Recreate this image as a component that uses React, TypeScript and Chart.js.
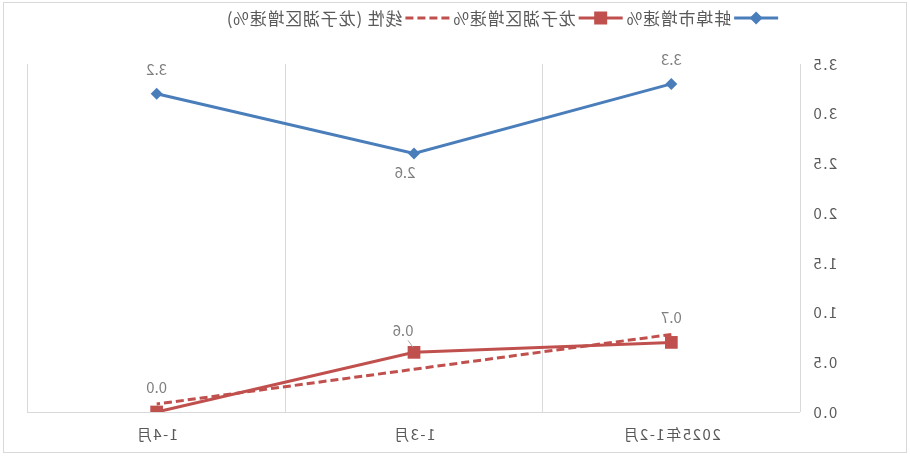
import React, { useEffect, useRef } from "react";
import { Chart, registerables } from "chart.js";

Chart.register(...registerables);

const categories = ["2025年1-2月", "1-3月", "1-4月"];
const bengbuGrowth = [3.3, 2.6, 3.2];
const longzihuGrowth = [0.7, 0.6, 0.0];
const longzihuTrend = [0.78, 0.43, 0.08];
const seriesNames = ["蚌埠市增速%", "龙子湖区增速%", "线性 (龙子湖区增速%)"];
const yMin = 0;
const yMax = 3.5;
const yStep = 0.5;

const FONT = "'Noto Sans CJK SC', 'Noto Sans', sans-serif";
const BLUE = "#4A7EBB";
const RED = "#C0504D";
const AXIS_TEXT = "#595959";
const LABEL_TEXT = "#7F7F7F";
const GRID = "#D9D9D9";

const framePlugin = {
  id: "frame",
  beforeDraw(chart: any) {
    const { ctx, width, height } = chart;
    ctx.save();
    ctx.fillStyle = "#ffffff";
    ctx.fillRect(0, 0, width, height);
    ctx.strokeStyle = GRID;
    ctx.lineWidth = 1;
    ctx.strokeRect(3.5, 2.5, width - 7, height - 6);
    ctx.restore();
    ctx.letterSpacing = "1.5px";
  },
  beforeDatasetsDraw(chart: any) {
    chart.ctx.letterSpacing = "0px";
  },
};

const valueLabelPlugin = {
  id: "valueLabels",
  afterDatasetsDraw(chart: any) {
    const ctx = chart.ctx;
    ctx.save();
    ctx.font = `15px ${FONT}`;
    ctx.textAlign = "center";
    ctx.textBaseline = "middle";
    chart.data.datasets.forEach((ds: any, di: number) => {
      if (!ds.labelPlacement) return;
      const meta = chart.getDatasetMeta(di);
      meta.data.forEach((pt: any, i: number) => {
        const v = ds.data[i];
        const place = ds.labelPlacement[i];
        let x = pt.x;
        let y = pt.y - 25;
        if (place === "below") {
          x = pt.x + 9;
          y = pt.y + 19;
        } else if (place === "aboveRight") {
          x = pt.x + 11;
          y = pt.y - 22;
          ctx.strokeStyle = "#A6A6A6";
          ctx.lineWidth = 1;
          ctx.beginPath();
          ctx.moveTo(pt.x + 6, pt.y - 12);
          ctx.lineTo(pt.x + 1, pt.y - 5);
          ctx.stroke();
        }
        ctx.fillStyle = LABEL_TEXT;
        ctx.fillText(Number(v).toFixed(1), x, y);
      });
    });
    ctx.restore();
  },
};

const legendPlugin = {
  id: "customLegend",
  afterDraw(chart: any) {
    const ctx = chart.ctx;
    ctx.save();
    ctx.font = `17px ${FONT}`;
    ctx.letterSpacing = "0.8px";
    ctx.textBaseline = "middle";
    ctx.textAlign = "left";
    const markerW = 44;
    const textGap = 3;
    const itemGap = 3;
    const items = chart.data.datasets.map((ds: any) => ({
      ds,
      w: markerW + textGap + ctx.measureText(ds.label).width,
    }));
    const total = items.reduce((s: number, it: any) => s + it.w, 0) + itemGap * (items.length - 1);
    let x = 408 - total / 2;
    const y = 18;
    items.forEach((it: any) => {
      const ds = it.ds;
      ctx.strokeStyle = ds.borderColor;
      ctx.lineWidth = 3;
      ctx.setLineDash(ds.borderDash || []);
      ctx.beginPath();
      ctx.moveTo(x, y);
      ctx.lineTo(x + markerW, y);
      ctx.stroke();
      ctx.setLineDash([]);
      const cx = x + markerW / 2;
      ctx.fillStyle = ds.borderColor;
      if (ds.pointStyle === "rectRot") {
        const r = 6.5;
        ctx.beginPath();
        ctx.moveTo(cx, y - r);
        ctx.lineTo(cx + r, y);
        ctx.lineTo(cx, y + r);
        ctx.lineTo(cx - r, y);
        ctx.closePath();
        ctx.fill();
      } else if (ds.pointStyle === "rect" && ds.pointRadius > 0) {
        const s = 6.5;
        ctx.fillRect(cx - s, y - s, 2 * s, 2 * s);
      }
      ctx.fillStyle = AXIS_TEXT;
      ctx.fillText(ds.label, x + markerW + textGap, y + 1);
      x += it.w + itemGap;
    });
    ctx.restore();
  },
};

export default function App() {
  const canvasRef = useRef<HTMLCanvasElement | null>(null);

  useEffect(() => {
    if (!canvasRef.current) return;
    const chart = new Chart(canvasRef.current, {
      type: "line",
      data: {
        labels: categories,
        datasets: [
          {
            label: seriesNames[0],
            data: bengbuGrowth,
            borderColor: BLUE,
            backgroundColor: BLUE,
            borderWidth: 3,
            pointStyle: "rectRot",
            pointRadius: 6,
            pointBorderWidth: 0,
            tension: 0,
            labelPlacement: ["above", "below", "above"],
          } as any,
          {
            label: seriesNames[1],
            data: longzihuGrowth,
            borderColor: RED,
            backgroundColor: RED,
            borderWidth: 3,
            pointStyle: "rect",
            pointRadius: 9,
            pointBorderWidth: 0,
            tension: 0,
            labelPlacement: ["above", "aboveRight", "above"],
          } as any,
          {
            label: seriesNames[2],
            data: longzihuTrend,
            borderColor: RED,
            backgroundColor: RED,
            borderWidth: 3,
            borderDash: [8, 4],
            pointStyle: "rect",
            pointRadius: 0,
            tension: 0,
          } as any,
        ],
      },
      options: {
        animation: false,
        responsive: true,
        maintainAspectRatio: false,
        layout: { padding: { top: 64, right: 28, left: 0, bottom: 0 } },
        plugins: {
          legend: { display: false },
          tooltip: { enabled: false },
        },
        scales: {
          x: {
            offset: true,
            grid: { offset: true, color: GRID, drawTicks: false, lineWidth: 1 },
            border: { color: GRID },
            ticks: { color: AXIS_TEXT, font: { family: FONT, size: 15 }, padding: 13, maxRotation: 0 },
            afterFit: (s: any) => {
              s.height = 44;
            },
          },
          y: {
            min: yMin,
            max: yMax,
            grid: { display: false, drawTicks: false },
            border: { display: false },
            ticks: {
              stepSize: yStep,
              color: AXIS_TEXT,
              font: { family: FONT, size: 15 },
              padding: 12,
              callback: (v: any) => Number(v).toFixed(1),
            },
            afterFit: (s: any) => {
              s.width = 110;
            },
          },
        },
      } as any,
      plugins: [framePlugin, valueLabelPlugin, legendPlugin],
    });
    return () => chart.destroy();
  }, []);

  return (
    <div
      style={{
        position: "fixed",
        left: 0,
        top: 0,
        width: 910,
        height: 456,
        transform: "scaleX(-1)",
        background: "#fff",
      }}
    >
      <canvas ref={canvasRef} />
    </div>
  );
}
